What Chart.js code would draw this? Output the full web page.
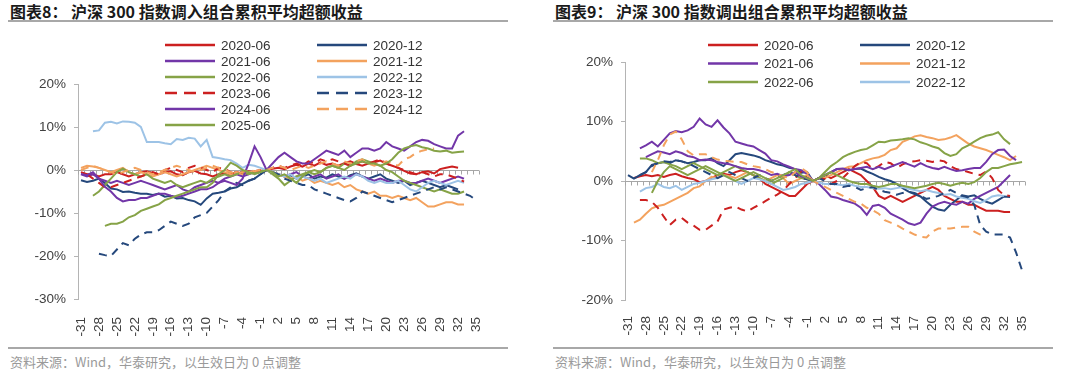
<!DOCTYPE html>
<html>
<head>
<meta charset="utf-8">
<script src="https://cdn.jsdelivr.net/npm/chart.js@4.4.0/dist/chart.umd.min.js"></script>
<style>
  body { margin: 0; background: #fff; width: 1080px; height: 375px; position: relative; overflow: hidden; font-family: "Noto Sans CJK SC", sans-serif; }
  .panel { position: absolute; top: 0; width: 540px; height: 375px; }
  .box { position: absolute; top: 0; left: 0; width: 540px; height: 340px; }
  .title { position: absolute; top: 3px; font-size: 16px; line-height: 16px; font-weight: bold; color: #1a1a1a; white-space: nowrap; }
  .rule { position: absolute; height: 2px; background: #a8a8a8; }
  .source { position: absolute; top: 355px; font-size: 13px; line-height: 13px; color: #9a9a9a; white-space: nowrap; }
</style>
</head>
<body>
<div class="panel" style="left:0">
  <div class="title" style="left:10px">图表8： 沪深 300 指数调入组合累积平均超额收益</div>
  <div class="rule" style="left:8px; width:500px; top:20px"></div>
  <div class="box"><canvas id="chart-in"></canvas></div>
  <div class="rule" style="left:8px; width:500px; top:347px"></div>
  <div class="source" style="left:10px">资料来源：Wind，华泰研究，以生效日为 0 点调整</div>
</div>
<div class="panel" style="left:540px">
  <div class="title" style="left:15px">图表9： 沪深 300 指数调出组合累积平均超额收益</div>
  <div class="rule" style="left:13px; width:500px; top:20px"></div>
  <div class="box"><canvas id="chart-out"></canvas></div>
  <div class="rule" style="left:13px; width:500px; top:347px"></div>
  <div class="source" style="left:15px">资料来源：Wind，华泰研究，以生效日为 0 点调整</div>
</div>
<script>
// trading days relative to the effective date
const days = [-31,-30,-29,-28,-27,-26,-25,-24,-23,-22,-21,-20,-19,-18,-17,-16,-15,-14,-13,-12,
  -11,-10,-9,-8,-7,-6,-5,-4,-3,-2,-1,0,1,2,3,4,5,6,7,8,9,10,11,12,13,14,15,16,17,18,19,20,
  21,22,23,24,25,26,27,28,29,30,31,32,33,34,35];
const tickEvery = 3;
const seriesNames = ["2020-06","2020-12","2021-06","2021-12","2022-06","2022-12",
  "2023-06","2023-12","2024-06","2024-12","2025-06"];

// 调入组合 (%)
const in_2020_06 = [-0.5,-1,-1,-1.5,-1,-1,-0.5,-1,-1.5,-1, -0.5,-0.3,-0.8,-1,-0.5,-0.3,-1,-1.2,-0.5,-0.2,
  -0.8,-1,-1.5,-1,-0.7,-1,-0.5,-0.8,-0.3,-0.5, -0.2,0,
  0.3,0.5,0.2,0.8,1.2,0.8,1.5,1.0,1.8,1.2, 1.5,1.0,1.6,2.0,1.4,1.0,1.5,1.8,2.2,1.5,
  1.0,0.5,-0.2,-0.8,-1.0,-0.5,-0.3,-0.8,0.2,0.5, 0.8,0.5,null,null,null];
const in_2020_12 = [-2.4,-2.8,-2.5,-2,-3,-4.3,-4.5,-5.1,-5,-5.3, -5.5,-5.5,-5.8,-5.5,-6.2,-6,-6.6,-6.5,-7,-7.3,
  -8.1,-6.6,-5.5,-5.3,-5,-4.3,-4,-3.2,-2.5,-2, -1,0,
  -0.5,-1,-1.5,-1.2,-2,-1.5,-1,-2,-1.5,-1.8, -1,-1.5,-2,-1.2,-0.8,-1.5,-2,-1.5,-1,-2,
  -2.5,-3,-2.5,-3.5,-3,-2.5,-3,-3.5,-4,-3.5, -4,-4.5,null,null,null];
const in_2021_06 = [-1,-1.5,-1,-2,-2.5,-3,-2.5,-3,-3.5,-3, -2.5,-3,-3.5,-4,-4.5,-4,-3.5,-4.5,-5,-4,
  -3.5,-3,-2.5,-3,-2,-1.5,-1,-1.5,-1,-0.5, -0.3,0,
  -0.5,-1,-1.5,-1,-0.5,-1.5,-2,-1.5,-1,-2, -1.5,-1,-2,-1.5,-1,-1.5,-2,-2.5,-2,-2.5,
  -3,-2.5,-2.5,-3,-3,-2.5,-2,-2.5,-3,-2.5, -2,-1.5,-2,null,null];
const in_2021_12 = [0.5,1,0.8,0.5,0,-0.5,0,0.5,-0.5,-1, -0.5,-1,-1.5,-1,-0.5,-1,-1.5,-1,-0.5,0,
  0.5,1,0.5,0,-0.5,-1,-0.5,-1,-0.5,-0.3, -0.2,0,
  -0.5,-1,-1.5,-2,-1.5,-2.5,-2,-3,-2.5,-3, -3.5,-3,-4,-3.5,-4.5,-5,-5.5,-5,-6,-6,
  -6.5,-6,-6.5,-7,-6.5,-7.5,-8.5,-8.5,-8,-7.5, -7.5,-8,-8,null,null];
const in_2022_06 = [null,null,-6,-5,-3.5,-2,-0.5,0.3,-0.5,-1, -1.5,-1,-2,-2.5,-3,-2.5,-3.5,-4,-3.5,-3,
  -2.5,-3,-2,-1.5,-1,-1.5,-1,-0.5,-1,-0.5, -0.3,0,
  -1,-2,-3.5,-2.5,-1.5,-1,-0.5,-1,-0.5,0.5, 1,0.5,1.5,1,2,2.5,2,1.5,1,0,
  -0.5,-1.5,-2.5,-3,-3.5,-4,-4.5,-5,-4.5,-5, -5.5,-5.5,-5,null,null];
const in_2022_12 = [null,null,9,9.2,11,11.2,10.8,11.3,11.2,11, 10,6.5,6.5,6.5,6.2,6,7.2,7,7.5,7.3,
  5.5,7,3,2.8,2.5,2.3,1.5,0.5,1.2,1, 0.5,0,
  -0.5,-1,-1.5,-1,-2,-1.5,-2,-2.5,-2,-3, -2.5,-2,-1.5,-2,-1,-1.5,-2.5,-3,-2.5,-3,
  -3,-2.5,-3.5,-4.5,-5,-4,-3,-2.5,-3,-3.5, -3,-2.5,-3,null,null];
const in_2023_06 = [null,-1,-2,-3,-4,-4,-3.5,-3,-2.5,-2, -1.5,-1,-0.5,-1,0,0.5,0,-0.5,0.5,1,
  0.5,0,-0.5,0.5,0.3,-0.5,-1,-0.5,0,-0.3, 0,0,
  0.5,1,0.5,1,1.5,1,2,1.5,2.5,2, 2.5,2,1.5,1,1.5,2,1.5,2,2.5,1.5,
  1,0.5,0,-0.5,-1,-0.5,-1,-1.5,-1,-1, -1.5,-2,-2.7,null,null];
const in_2023_12 = [null,null,null,-19.5,-19.8,-20,-18.5,-17,-17.5,-16, -15,-14.5,-14.5,-14,-13,-12,-12.5,-13,-12.5,-11,
  -10.5,-10,-8.5,-7,-5,-4,-3,-3.5,-2.5,-2, -1,0,
  -0.5,-1,-2,-2.5,-3,-3.5,-3.5,-4.5,-5,-5.5, -6,-6.5,-7,-7.3,-6.5,-5,-5.5,-6,-6.5,-7,
  -7.5,-7,-6.5,-6,-5.5,-5,-4.5,-4,-4.5,-4, -4.5,-5,-5.5,-6,-7];
const in_2024_06 = [-0.9,-1.2,-0.5,-2,-3.9,-5,-6.5,-7.3,-7,-7, -6.5,-6.5,-6,-5.5,-5.5,-6,-6.3,-6,-5.5,-5,
  -4.5,-4.5,-4,-3,-2.5,-3,-3.5,-2,1.5,5.5, 3,0,
  1.5,3,4,3,2,1.5,1.5,2.5,3.5,4.5, 4,3.5,4.5,3,4,5,5,4.5,5,6.5,
  5.5,5,4.5,5.5,6.5,7,6.8,6,5.5,5, 5,8,9,null,null];
const in_2024_12 = [0,0.5,1,0.5,0,-0.5,-1,-0.5,0,0.5, 0,-0.5,-1,-0.5,0,0.5,1,0.5,0,-0.5,
  0,0.5,1,0.5,0,-0.5,-1,-0.5,0,-0.3, 0,0,
  0.5,1,0.5,0,0.5,1,0.5,1,1.5,2, 1.5,1,2,1.5,2,2.5,1.5,1,1.5,2,
  1.5,1,2.5,3,4,4.5,4.8,5,null,null, null,null,null,null,null];
const in_2025_06 = [null,null,null,null,-13,-12.5,-12.5,-12,-11,-10.5, -9.5,-9,-8.5,-8,-7,-6.5,-6,-5.5,-5,-4.5,
  -4,-4,-3,-1,0,1.7,1,0,-0.5,-1, -0.5,0,
  -0.5,-1.5,-1,-2,-3,-1.5,-0.5,0,-0.5,0.5, 1,0.5,0,1,1.5,2,1.5,1.5,1,1.5,
  2.5,4,5,5.5,5.8,5.3,5,4.5,4.3,4.5, 4,4.2,4.3,null,null];

// 调出组合 (%)
const out_2020_06 = [null,0.5,0.8,1,0.8,1,0.7,1,1.2,0.8, 0.5,0.3,-0.2,0,0.5,1,1.2,1,1.5,1.8,
  1.5,1,0.5,-0.5,-1,-1.5,-2,-2.5,-2.5,-1.5, -0.5,0,
  0.5,1,0.5,1,1.5,2,1.5,1,0,-1, -2.5,-3,-2.5,-3,-3.5,-3,-2.5,-2,-1.5,-1,
  -1.5,-2.5,-3,-3.5,-3.5,-4,-4,-4.5,-5,-5, -5,-5.2,-5.2,null,null];
const out_2020_12 = [1,0.4,1,1.5,2.7,3,3.2,3,3.5,3.3, 3,3.2,3.5,3.5,3.8,3,2.5,3.5,4.5,4.7,
  4.5,4.3,4,3.5,3.2,2.8,2.6,2.2,2,1.4, 1.5,0,
  0.5,1,1.5,2,2,1.8,2,2.1,1.6,1.2, 0.7,0.3,0,-0.5,-1.2,-1.8,-2.2,-2.6,-3.5,-4.3,
  -4.8,-5,-4,-3.2,-2.4,-2.6,-2.4,-3,-3.5,-3.8, -3.2,-2.6,-2.7,null,null];
const out_2021_06 = [null,null,5.5,6,6.6,5.8,6.9,8,8.4,8.2, 8.5,9.1,10.5,9.5,9.1,10.2,9,8,6.6,6.3,
  6,5.8,5.2,4.6,3.5,3.3,2.8,2.4,2,1.8, 1.2,0,
  -0.5,-1.5,-2.6,-2.8,-3.2,-3.5,-3.8,-4.5,-5.7,-4.2, -4,-4.5,-5.5,-6,-6.5,-7.1,-7.4,-7,-5.5,-4.3,
  -3.8,-3.5,-3.8,-4,-3.5,-3.8,-3,-2.5,-2,-1.5, -1,0,1,null,null];
const out_2021_12 = [null,-7,-6.5,-5.5,-4.6,-4.2,-4,-3.5,-3,-2.5, -2,-1.2,-0.9,0,0.7,0.5,1,0.8,0.5,1,
  1.5,1,0.5,0,0.5,1,0.5,-0.5,0,0.5, 1,0,
  0.5,0.5,1,1.5,2,2.4,2.5,3,3.5,3.8, 4,4.4,5.2,5.5,6.6,7,7.5,7.7,7.4,7.2,
  6.9,7,7.3,7.7,7,6.3,5.8,5.5,5.2,4.8, 4.4,4,3.5,4.2,null];
const out_2022_06 = [null,null,3.8,3.8,3.5,3,3.2,2.8,2.5,2, 2.5,3,2.5,2,1.5,1,1.5,2,2.5,2,
  1.5,1,0.5,0,-0.5,0,0.5,1.5,1,0.5, 0.3,0,
  0.5,1.5,2.5,3.2,4,4.5,4.9,5.2,5.4,6, 6.6,6.5,6.8,6.9,7,7.2,7,6.5,6.2,5.8,
  5.5,4.7,4.2,4.5,5.5,6,6.6,7.2,7.6,7.8, 8.2,7,6.2,null,null];
const out_2022_12 = [null,null,-1.8,-1.2,-1,-0.5,-1,-1.2,-0.8,-1.5, -1,-0.5,-0.3,0,0.3,0.5,1,0.5,0,-0.5,
  0,0.5,0.3,0,-0.5,-1,-1.5,-1.3,-1,-0.5, -0.3,0,
  -0.3,-0.5,-0.5,-0.6,-0.7,-0.5,-0.8,-1,-1,-1.2, -1.3,-1.2,-1.4,-1.2,-1,-1.3,-1.5,-1.7,-1.5,-1.8,
  -2,-2.3,-2.2,-2.6,-2.8,-3,-3.4,-3.7,-3.2,-2.6, -2.4,-2.5,null,null,null];
const out_2023_06 = [null,null,-3.2,-3.2,-3.5,-4.5,-6,-7.4,-6.5,-6.2, -7,-7.5,-8.2,-8.2,-7.5,-6.8,-4.8,-4.5,-4.3,-4.8,
  -5.1,-4.5,-4,-3.4,-2.8,-2.3,-1.6,-0.5,0.5,1.5, 0.5,0,
  0.5,0.3,-0.5,0,0.5,1.5,2.5,3.2,3,2, 2.5,3.2,3,2.2,2.8,3.2,3.3,3.5,3.4,3.2,
  3.5,3.3,2.5,2,1.8,1.5,1.2,1,1.6,0.5, -1.5,-2.4,-2.5,null,null];
const out_2023_12 = [null,null,1,1.5,2.5,3,3.3,3.2,3.5,3.3, 3,2.5,2,1.5,1,0.5,1,1.5,1,0.5,
  0,0.5,1,0.5,0,0.5,1,1.5,1,0.5, 0.3,0,
  0.5,0,-0.5,-0.5,-1,-0.8,-1,-1.5,-1.2,-1, -1.5,-1.8,-2,-2.3,-2,-1.8,-2,-2.5,-3,-2.8,
  -2.5,-2,-1.5,-2,-2.5,-2.8,-4,-7.4,-8.5,-9, -9,-9,-9.5,-12,-15];
const out_2024_06 = [null,null,null,4,4.5,5,4.8,4.5,5,4.7, 4.2,4,3.5,3.6,3.5,3.2,3,2.8,2.5,2.2,
  2,2,1.8,1.5,1,1.2,0.8,1,1.5,0.8, 0.5,0,
  0.5,1,1.5,2,2.1,1.8,2,2.2,2.4,2, 2.4,2,2.4,2.8,3.2,2.8,2.4,3,2.5,2.2,
  2,2.4,2,1.7,1.8,2,2.2,2.2,3.2,4.5, 5.2,5.3,4.2,3.5,null];
const out_2024_12 = [null,null,null,null,1.5,3.5,6,7.8,8.3,7, 5,4.3,4.5,4.5,4,3.6,3.4,3.3,3.2,3.2,
  2.8,2.5,2.3,2,1.5,1.2,0.8,0.5,1.5,2.2, 1.5,0,
  -0.5,-1,-1.5,-2,-2.5,-3,-3.5,-3.8,-4.5,-4.9, -5.5,-6.6,-7,-7.4,-8,-8.5,-9,-9.4,-9.5,-8.5,
  -8,-8,-8,-7.8,-7.7,-7.7,-8.5,-9,-9.2,null, null,null,null,null,null];
const out_2025_06 = [null,null,null,null,-2,0,1.5,2.5,2,1.5, 1,1.5,2,2.5,2,1.5,1,0.5,0,0.5,
  1,1.5,1,0.5,0,0.5,1,1.5,2,1, 0.5,0,
  0.5,1,1.5,1,0.5,0,-0.3,-0.5,-0.5,-0.8, -1,-0.8,-0.5,-0.5,-0.8,-1,-1.2,-1,-0.8,-0.5,
  -0.3,-0.5,-0.8,-0.5,-0.3,-0.5,-0.2,0.5,1.5,2.2, 2.2,2.5,2.8,3,3.2];

const RED = "#CC2020", NAVY = "#25487C", PURPLE = "#7236A8", ORANGE = "#F3A25E", GREEN = "#86A347", SKY = "#9DC3E6";
const DASH = [8, 6];
const lineStyle = [
  { color: RED }, { color: NAVY }, { color: PURPLE }, { color: ORANGE }, { color: GREEN }, { color: SKY },
  { color: RED, dash: DASH }, { color: NAVY, dash: DASH }, { color: PURPLE }, { color: ORANGE, dash: DASH }, { color: GREEN },
];

Chart.defaults.font.family = "'Liberation Sans', Arial, sans-serif";
Chart.defaults.font.size = 13.5;
Chart.defaults.color = "#404040";

// horizontal axis drawn through 0% with small tick marks between categories
const zeroAxis = {
  id: "zeroAxis",
  beforeDatasetsDraw(chart) {
    const { ctx, chartArea, scales: { x, y } } = chart;
    const y0 = Math.round(y.getPixelForValue(0)) + 0.5;
    const half = (x.getPixelForValue(1) - x.getPixelForValue(0)) / 2;
    ctx.save();
    ctx.strokeStyle = "#a6a6a6";
    ctx.lineWidth = 1;
    ctx.beginPath();
    ctx.moveTo(chartArea.left, y0);
    ctx.lineTo(chartArea.right, y0);
    for (let i = 0; i <= days.length; i++) {
      const px = Math.round(x.getPixelForValue(i) - half) + 0.5;
      ctx.moveTo(px, y0);
      ctx.lineTo(px, y0 + 4);
    }
    ctx.stroke();
    ctx.restore();
  },
};

// two-column legend placed over the plot, like the original
const insetLegend = {
  id: "insetLegend",
  afterDraw(chart, args, opts) {
    const ctx = chart.ctx;
    ctx.save();
    ctx.font = "13.5px 'Liberation Sans', Arial, sans-serif";
    ctx.textBaseline = "middle";
    ctx.fillStyle = "#333";
    chart.data.datasets.slice(0, opts.count).forEach((ds, i) => {
      const x0 = opts.columns[i % 2];
      const y0 = opts.top + Math.floor(i / 2) * opts.rowGap;
      ctx.strokeStyle = ds.borderColor;
      ctx.lineWidth = 2.5;
      ctx.setLineDash(ds.borderDash.length ? [12, 7] : []);
      ctx.beginPath();
      ctx.moveTo(x0, y0);
      ctx.lineTo(x0 + 50, y0);
      ctx.stroke();
      ctx.fillText(ds.label, x0 + 56, y0 + 1);
    });
    ctx.restore();
  },
};

function makeChart(canvasId, seriesData, yMin, yMax, frame, legendOpts) {
  const datasets = seriesData.map((values, i) => ({
    label: seriesNames[i],
    data: values,
    borderColor: lineStyle[i].color,
    borderDash: lineStyle[i].dash || [],
    borderWidth: 2,
    pointRadius: 0,
    tension: 0,
    order: seriesData.length - i,
  }));

  return new Chart(document.getElementById(canvasId), {
    type: "line",
    data: { labels: days.map(String), datasets: datasets },
    options: {
      animation: false,
      responsive: true,
      maintainAspectRatio: false,
      layout: { padding: { top: frame.top, left: frame.left - 70, right: frame.right, bottom: 0 } },
      scales: {
        x: {
          offset: true,
          grid: { display: false },
          border: { display: false },
          ticks: {
            autoSkip: false,
            minRotation: 90,
            maxRotation: 90,
            padding: frame.labelPad,
            callback: function (value, index) {
              return index % tickEvery === 0 ? this.getLabelForValue(value) : "";
            },
          },
          afterFit: (scale) => { scale.height = frame.xHeight; },
        },
        y: {
          min: yMin,
          max: yMax,
          ticks: { stepSize: 10, padding: 8, callback: (v) => v + "%" },
          grid: { drawOnChartArea: false, tickLength: 4, color: "#b4b4b4" },
          border: { color: "#b4b4b4" },
          afterFit: (scale) => { scale.width = 70; },
        },
      },
      plugins: {
        legend: { display: false },
        tooltip: { enabled: false },
        insetLegend: legendOpts,
      },
    },
    plugins: [zeroAxis, insetLegend],
  });
}

makeChart("chart-in",
  [in_2020_06, in_2020_12, in_2021_06, in_2021_12, in_2022_06, in_2022_12,
   in_2023_06, in_2023_12, in_2024_06, in_2024_12, in_2025_06],
  -30, 20,
  { top: 84, left: 78, right: 61, xHeight: 41, labelPad: 10 },
  { count: 11, columns: [165, 317], top: 45, rowGap: 16 });

makeChart("chart-out",
  [out_2020_06, out_2020_12, out_2021_06, out_2021_12, out_2022_06, out_2022_12,
   out_2023_06, out_2023_12, out_2024_06, out_2024_12, out_2025_06],
  -20, 20,
  { top: 62, left: 85, right: 55, xHeight: 40, labelPad: 8 },
  { count: 6, columns: [168, 320], top: 45, rowGap: 18.5 });
</script>
</body>
</html>
